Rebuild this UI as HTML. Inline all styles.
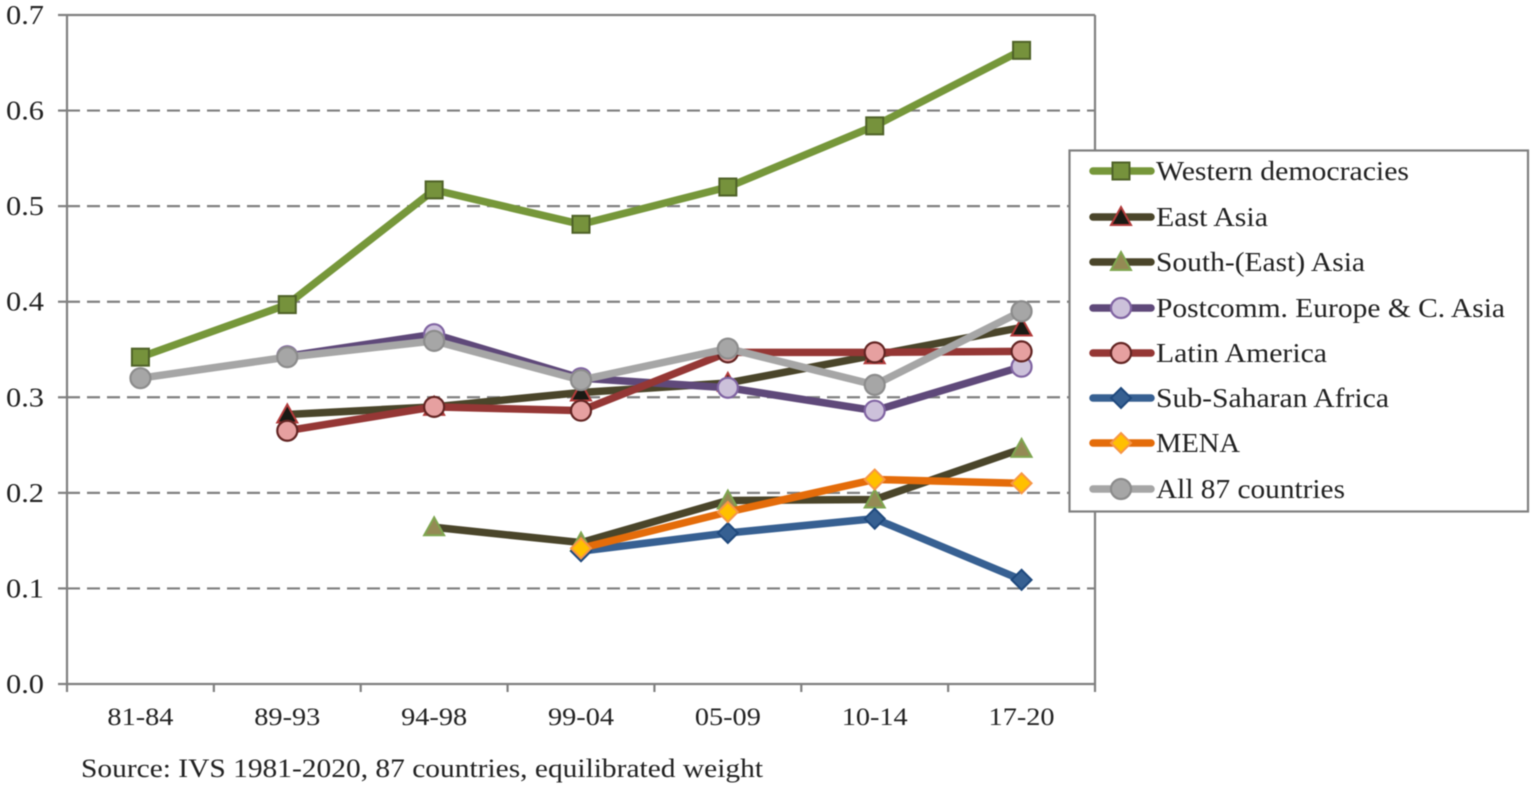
<!DOCTYPE html>
<html lang="en">
<head>
<meta charset="utf-8">
<title>Line chart by world region, IVS 1981-2020</title>
<style>
html,body{margin:0;padding:0;background:#fff;width:1535px;height:789px;overflow:hidden}
svg{display:block;filter:blur(.5px)}
text{font-family:"Liberation Serif",serif;fill:#222}
</style>
</head>
<body>
<svg id="chart" xmlns="http://www.w3.org/2000/svg" width="1535" height="789" viewBox="0 0 1535 789"></svg>
<script>
const categories = ['81-84','89-93','94-98','99-04','05-09','10-14','17-20'];
const yTickValues = [0,0.1,0.2,0.3,0.4,0.5,0.6,0.7];
const yTickLabels = ['0.0','0.1','0.2','0.3','0.4','0.5','0.6','0.7'];

const westernDemocracies = [0.342,0.397,0.517,0.481,0.520,0.584,0.663];
const eastAsia = [null,0.282,0.290,0.305,0.315,0.344,0.373];
const southEastAsia = [null,null,0.164,0.148,0.192,0.193,0.246];
const postcommEurope = [null,0.343,0.366,0.320,0.310,0.286,0.332];
const latinAmerica = [null,0.265,0.290,0.286,0.347,0.347,0.348];
const subSaharanAfrica = [null,null,null,0.139,0.158,0.173,0.109];
const mena = [null,null,null,0.142,0.180,0.214,0.210];
const all87Countries = [0.320,0.342,0.359,0.318,0.351,0.313,0.390];

const seriesList = [
  {key:'western-democracies',label:'Western democracies',values:westernDemocracies,line:'#76973a',fill:'#76923c',stroke:'#4f6228',shape:'square',labelW:253},
  {key:'east-asia',label:'East Asia',values:eastAsia,line:'#4a452a',fill:'#1a1a14',stroke:'#b23b3b',shape:'triangle',labelW:112},
  {key:'south-east-asia',label:'South-(East) Asia',values:southEastAsia,line:'#4a452a',fill:'#948a54',stroke:'#7fa650',shape:'triangle',labelW:209},
  {key:'postcomm-europe',label:'Postcomm. Europe & C. Asia',values:postcommEurope,line:'#5f497a',fill:'#ccc1da',stroke:'#8064a2',shape:'circle',labelW:349},
  {key:'latin-america',label:'Latin America',values:latinAmerica,line:'#953735',fill:'#e6a0a0',stroke:'#632523',shape:'circle',labelW:171},
  {key:'sub-saharan-africa',label:'Sub-Saharan Africa',values:subSaharanAfrica,line:'#376092',fill:'#366092',stroke:'#1f497d',shape:'diamond',labelW:233},
  {key:'mena',label:'MENA',values:mena,line:'#e46c0a',fill:'#ffc000',stroke:'#f79646',shape:'diamond',labelW:84},
  {key:'all-87-countries',label:'All 87 countries',values:all87Countries,line:'#a6a6a6',fill:'#a6a6a6',stroke:'#8c8c8c',shape:'circle',labelW:189}
];

const NS = 'http://www.w3.org/2000/svg';
const svg = document.getElementById('chart');
const plotLeft = 67, plotRight = 1095, plotTop = 15, plotBottom = 684;
const axisColor = '#808080';

function xScale(i){ return plotLeft + (plotRight - plotLeft) * (i + 0.5) / categories.length; }
function yScale(v){ return plotBottom - (plotBottom - plotTop) * v / 0.7; }

function make(tag, attrs, parent){
  const el = document.createElementNS(NS, tag);
  for (const k in attrs) el.setAttribute(k, attrs[k]);
  (parent || svg).appendChild(el);
  return el;
}

function drawMarker(shape, x, y, fill, stroke, parent){
  let el;
  if (shape === 'square') {
    el = make('rect',{x:x-8.5,y:y-8.5,width:17,height:17,fill:fill,stroke:stroke,'stroke-width':2},parent);
  } else if (shape === 'circle') {
    el = make('circle',{cx:x,cy:y,r:10,fill:fill,stroke:stroke,'stroke-width':2.2},parent);
  } else if (shape === 'triangle') {
    el = make('polygon',{points:(x-10)+','+(y+8)+' '+x+','+(y-10)+' '+(x+10)+','+(y+8),fill:fill,stroke:stroke,'stroke-width':2},parent);
  } else {
    el = make('polygon',{points:(x-10)+','+y+' '+x+','+(y-10)+' '+(x+10)+','+y+' '+x+','+(y+10),fill:fill,stroke:stroke,'stroke-width':2},parent);
  }
  return el;
}

/* gridlines */
yTickValues.forEach(function(v, i){
  if (i === 0 || i === yTickValues.length - 1) return;
  const grid = make('line',{x1:plotLeft,x2:plotRight,y1:yScale(v),y2:yScale(v),stroke:axisColor,'stroke-width':2.2,'stroke-dasharray':'13 7'});
  
  
});

/* axes and frame */
const yAxis = make('line',{x1:plotLeft,x2:plotLeft,y1:plotTop,y2:plotBottom,stroke:axisColor,'stroke-width':2.2});


const xAxis = make('line',{x1:plotLeft,x2:plotRight,y1:plotBottom,y2:plotBottom,stroke:axisColor,'stroke-width':2.2});


const topBorder = make('line',{x1:plotLeft,x2:plotRight,y1:plotTop,y2:plotTop,stroke:axisColor,'stroke-width':2.2});


const rightBorder = make('line',{x1:plotRight,x2:plotRight,y1:plotTop,y2:plotBottom,stroke:axisColor,'stroke-width':2.2});



/* y ticks and labels */
yTickValues.forEach(function(v, i){
  const tick = make('line',{x1:58,x2:plotLeft,y1:yScale(v),y2:yScale(v),stroke:axisColor,'stroke-width':2.2});
  
  
  const label = make('text',{x:6,y:yScale(v)+9,'font-size':27,textLength:38,lengthAdjust:'spacingAndGlyphs'});
  label.textContent = yTickLabels[i];
  
  
});

/* x ticks and labels */
for (let i = 0; i <= categories.length; i++) {
  const tx = plotLeft + (plotRight - plotLeft) * i / categories.length;
  const tick = make('line',{x1:tx,x2:tx,y1:plotBottom,y2:plotBottom+8,stroke:axisColor,'stroke-width':2.2});
  
  
}
categories.forEach(function(c, i){
  const label = make('text',{x:xScale(i)-33,y:725,'font-size':25,textLength:66,lengthAdjust:'spacingAndGlyphs'});
  label.textContent = c;
  
  
});

/* series */
seriesList.forEach(function(s){
  const g = make('g',{});
  
  
  const pts = [];
  s.values.forEach(function(v, i){ if (v !== null) pts.push([xScale(i), yScale(v)]); });
  const path = make('polyline',{points:pts.map(function(p){return p.join(',');}).join(' '),fill:'none',stroke:s.line,'stroke-width':7.5,'stroke-linejoin':'round','stroke-linecap':'round'},g);
  
  
  pts.forEach(function(p){
    const m = drawMarker(s.shape, p[0], p[1], s.fill, s.stroke, g);
    
    
  });
});

/* legend */
const legend = make('g',{});


const legendBox = make('rect',{x:1069.5,y:150.5,width:458.5,height:361,fill:'#fff',stroke:axisColor,'stroke-width':2.2},legend);


const legendRowY = [171,217,262,308,353,398,443,489];
seriesList.forEach(function(s, i){
  const y = legendRowY[i];
  const row = make('g',{},legend);
  
  
  make('line',{x1:1093,x2:1151,y1:y,y2:y,stroke:s.line,'stroke-width':7.5,'stroke-linecap':'round'},row);
  drawMarker(s.shape, 1121, y, s.fill, s.stroke, row);
  const t = make('text',{x:1156,y:y+9,'font-size':27,textLength:s.labelW,lengthAdjust:'spacingAndGlyphs'},row);
  t.textContent = s.label;
});

/* source note */
const source = make('text',{x:81,y:777,'font-size':26,textLength:682,lengthAdjust:'spacingAndGlyphs'});
source.textContent = 'Source: IVS 1981-2020, 87 countries, equilibrated weight';


</script>
</body>
</html>
